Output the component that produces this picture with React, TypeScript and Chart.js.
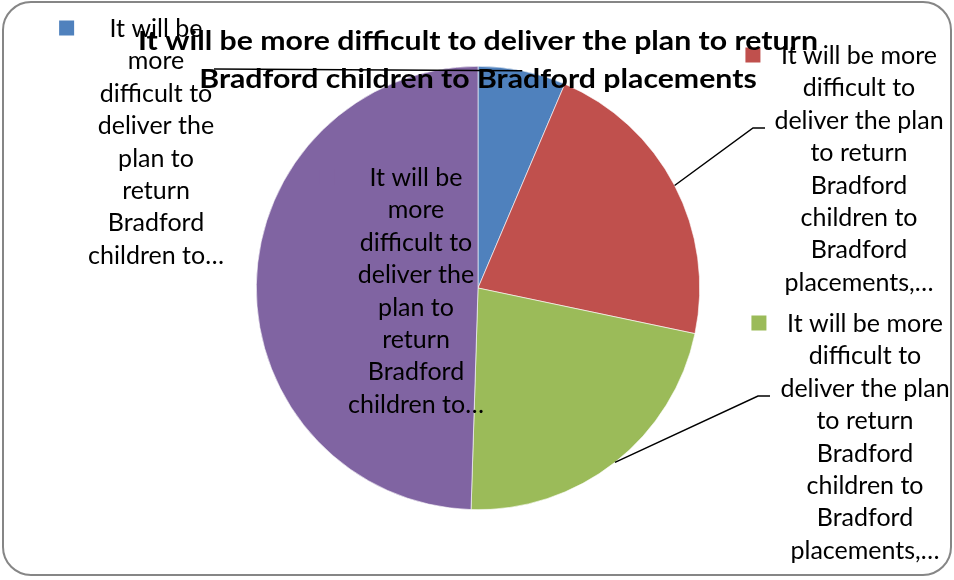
import { useEffect, useRef } from "react";
import { Chart, registerables } from "chart.js";

Chart.register(...registerables);

const categories = [
  "It will be more difficult to deliver the plan to return Bradford children to Bradford placements, Strongly agree",
  "It will be more difficult to deliver the plan to return Bradford children to Bradford placements, Agree",
  "It will be more difficult to deliver the plan to return Bradford children to Bradford placements, Disagree",
  "It will be more difficult to deliver the plan to return Bradford children to Bradford placements, Don't know",
];
const values = [6.4, 21.9, 22.2, 49.5];
const colors = ["#4F81BD", "#C0504D", "#9BBB59", "#8064A2"];
const titleLines = [
  "It will be more difficult to deliver the plan to return",
  "Bradford children to Bradford placements",
];
const labelLines = [
  ["It will be", "more", "difficult to", "deliver the", "plan to", "return", "Bradford", "children to…"],
  ["It will be more", "difficult to", "deliver the plan", "to return", "Bradford", "children to", "Bradford", "placements,…"],
  ["It will be more", "difficult to", "deliver the plan", "to return", "Bradford", "children to", "Bradford", "placements,…"],
  ["It will be", "more", "difficult to", "deliver the", "plan to", "return", "Bradford", "children to…"],
];

// label placement (layout only): block centre x, first line centre y, leader path from label towards slice
const labelPlacement = [
  { cx: 156, y: 28, leader: [[214, 69]] },
  { cx: 859, y: 55, leader: [[765, 128], [753, 128]] },
  { cx: 865, y: 323, leader: [[770, 396], [758, 396]] },
  { cx: 416, y: 177, leader: [] as number[][] },
];

const LABEL_FONT = "25px Lato";
const TITLE_FONT = "bold 27px Lato";
const TITLE_STRETCH = 1.12;
const LINE_H = 32.4;

const decorPlugin = {
  id: "decor",
  beforeDraw(chart: any) {
    const ctx = chart.ctx;
    ctx.save();
    ctx.fillStyle = "#ffffff";
    ctx.fillRect(0, 0, chart.width, chart.height);
    ctx.beginPath();
    ctx.roundRect(3, 2, 948, 573, 28);
    ctx.strokeStyle = "#868686";
    ctx.lineWidth = 2;
    ctx.stroke();
    ctx.restore();
  },
  afterDatasetsDraw(chart: any) {
    const ctx = chart.ctx;
    const meta = chart.getDatasetMeta(0);
    ctx.save();
    // leader lines
    meta.data.forEach((arc: any, i: number) => {
      const p = labelPlacement[i];
      if (!p.leader.length) return;
      const { x, y, startAngle, endAngle, outerRadius } = arc.getProps(
        ["x", "y", "startAngle", "endAngle", "outerRadius"],
        true
      );
      const mid = (startAngle + endAngle) / 2;
      const ex = x + Math.cos(mid) * outerRadius;
      const ey = y + Math.sin(mid) * outerRadius;
      ctx.beginPath();
      ctx.moveTo(p.leader[0][0], p.leader[0][1]);
      for (let k = 1; k < p.leader.length; k++) ctx.lineTo(p.leader[k][0], p.leader[k][1]);
      ctx.lineTo(ex, ey);
      ctx.strokeStyle = "#000";
      ctx.lineWidth = 1.5;
      ctx.stroke();
    });
    // labels
    ctx.font = LABEL_FONT;
    ctx.textAlign = "center";
    ctx.textBaseline = "middle";
    labelLines.forEach((lines, i) => {
      const p = labelPlacement[i];
      const maxW = Math.max(...lines.map((l) => ctx.measureText(l).width));
      ctx.fillStyle = colors[i];
      ctx.fillRect(p.cx - maxW / 2 - 29, p.y - 7.5, 15, 15);
      ctx.fillStyle = "#000";
      lines.forEach((l, k) => ctx.fillText(l, p.cx, p.y + k * LINE_H + 1));
    });
    // title
    ctx.font = TITLE_FONT;
    ctx.fillStyle = "#000";
    ctx.textBaseline = "alphabetic";
    titleLines.forEach((t, k) => {
      ctx.save();
      ctx.translate(478, 50 + k * 38);
      ctx.scale(TITLE_STRETCH, 1);
      ctx.fillText(t, 0, 0);
      ctx.restore();
    });
    ctx.restore();
  },
};

export default function App() {
  const ref = useRef<HTMLCanvasElement>(null);
  useEffect(() => {
    if (!ref.current) return;
    const chart = new Chart(ref.current, {
      type: "pie",
      data: {
        labels: categories,
        datasets: [
          {
            data: values,
            backgroundColor: colors,
            borderColor: "#ffffff",
            borderWidth: 0.6,
          },
        ],
      },
      options: {
        responsive: false,
        animation: false,
        layout: { padding: { left: 256, right: 254, top: 66, bottom: 70 } },
        plugins: {
          legend: { display: false },
          title: { display: false },
          tooltip: { enabled: false },
        },
      },
      plugins: [decorPlugin],
    });
    return () => chart.destroy();
  }, []);
  return (
    <div style={{ position: "absolute", left: 0, top: 0, width: 954, height: 580 }}>
      <canvas ref={ref} width={954} height={580} />
    </div>
  );
}
